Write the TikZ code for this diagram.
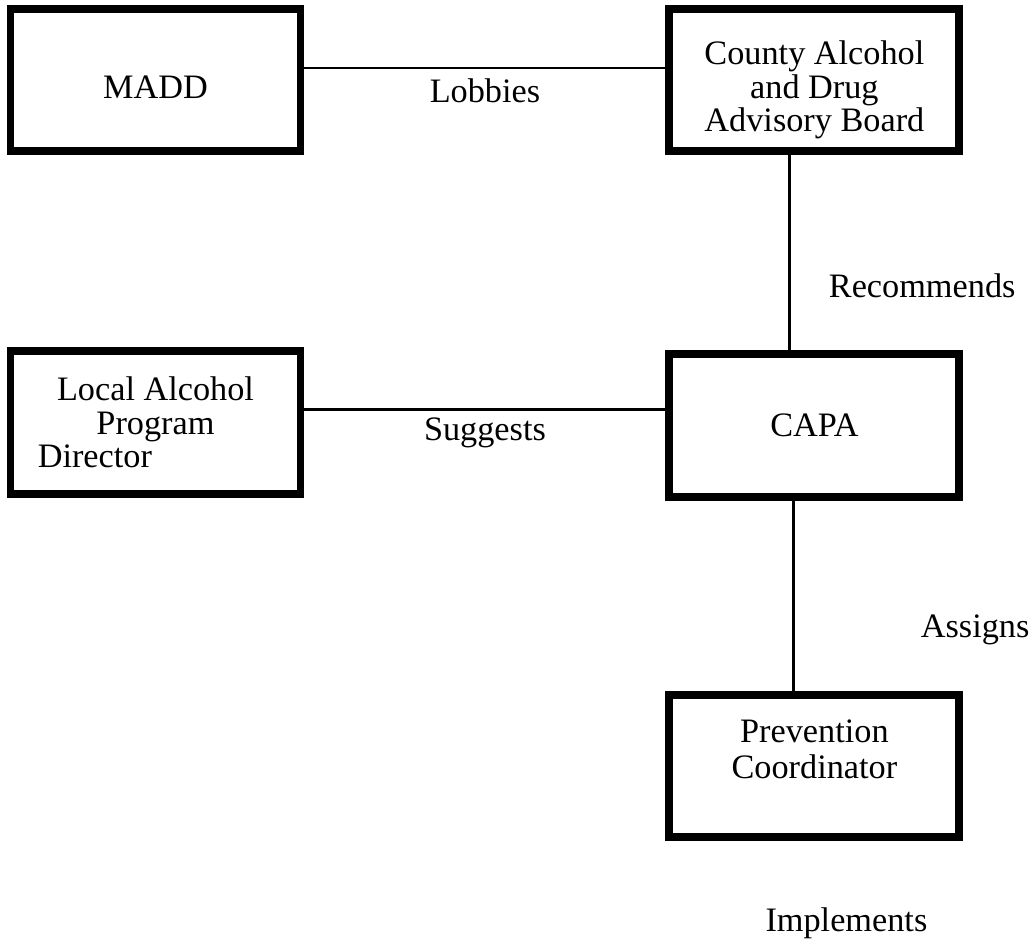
\documentclass[tikz,border=0pt]{standalone}
\usepackage{fontspec}
\setmainfont{Liberation Serif}
\usetikzlibrary{positioning}
\tikzstyle{org}=[rectangle,draw,line width=4.5pt,align=center,minimum width=5.8cm,minimum height=2.85cm,font=\fontsize{19.5}{19}\selectfont]
\tikzstyle{rel}=[font=\fontsize{19.5}{19.5}\selectfont]
\tikzstyle{link}=[line width=1.3pt]

\begin{document}
\begin{tikzpicture}
\useasboundingbox (0,0) rectangle (20.66,-18.96);
\node (MADD) [org] at (3.11,-1.6) {\rule{0pt}{21pt}MADD};
\node (CADB) [org, right=7.22cm of MADD] {\rule{0pt}{25pt}County Alcohol\\and Drug\\Advisory Board};
\node (LAPD) [org, below=3.84cm of MADD] {Local Alcohol\\Program\\Director\hspace*{69pt}};
\node (CAPA) [org, below=3.9cm of CADB] {CAPA};
\node (PC) [org, below=3.8cm of CAPA] {Prevention\\[1pt]Coordinator\rule[-19pt]{0pt}{1pt}};
\node (IMP) [rel, below=1.2cm of PC, xshift=0.64cm] {Implements};
\draw [link] ([yshift=0.24cm]MADD.east) -- node [rel, below=0.07cm] {Lobbies} ([yshift=0.24cm]MADD.east -| CADB.west);
\draw [link] ([yshift=0.26cm]LAPD.east) -- node [rel, below=0.03cm] {Suggests} ([yshift=0.26cm]LAPD.east -| CAPA.west);
\draw [link] ([xshift=-0.5cm]CADB.south) -- node [rel, pos=0.67, right=0.65cm] {Recommends} ([xshift=-0.5cm]CADB.south |- CAPA.north);
\draw [link] ([xshift=-0.42cm]CAPA.south) -- node [rel, pos=0.68, right=2.41cm] {Assigns} ([xshift=-0.42cm]CAPA.south |- PC.north);
\end{tikzpicture}
\end{document}
